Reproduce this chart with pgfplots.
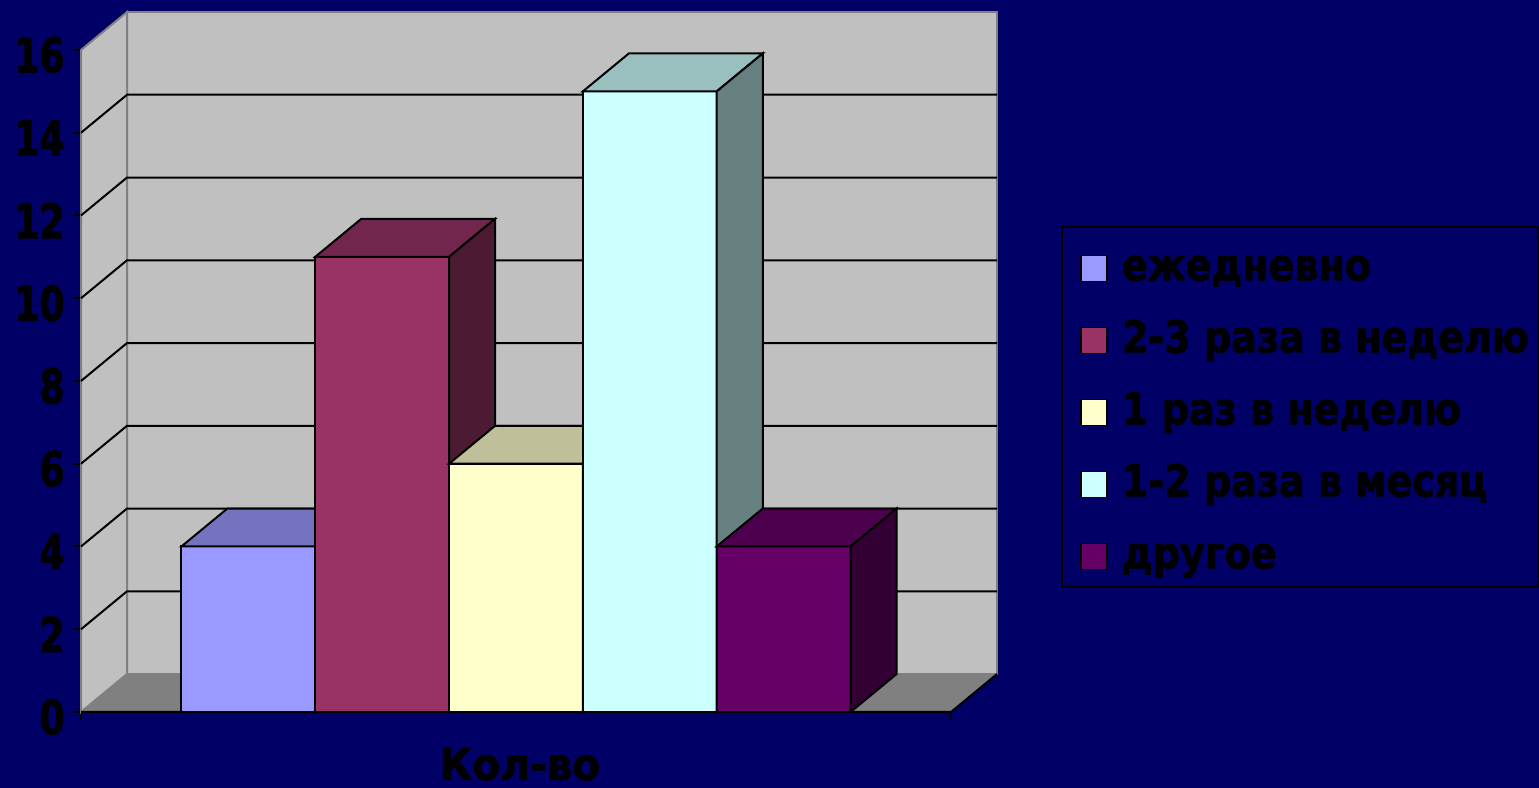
\documentclass[border=0pt]{standalone}
\usepackage{pgfplots}
\pgfplotsset{compat=1.18}
\usepackage{fontspec}
\setmainfont{DejaVu Sans}
\newfontfamily\tickfont{DejaVu Sans}[UprightFont={* Bold}, FakeStretch=0.75, FakeBold=1.5]
\newfontfamily\legfont{DejaVu Sans}[UprightFont={* Bold}, FakeStretch=0.865, FakeBold=1.5]
\newfontfamily\labfont{DejaVu Sans}[UprightFont={* Bold}, FakeStretch=0.92, FakeBold=1.5]
\definecolor{navy}{RGB}{0,0,102}
\definecolor{wall}{RGB}{192,192,192}
\definecolor{edgegray}{RGB}{128,128,128}
\definecolor{floorgray}{RGB}{128,128,128}
\definecolor{fA}{HTML}{9999FF}\definecolor{tA}{HTML}{7373BF}\definecolor{sA}{HTML}{4D4D80}
\definecolor{fB}{HTML}{993366}\definecolor{tB}{HTML}{73264D}\definecolor{sB}{HTML}{4D1A33}
\definecolor{fC}{HTML}{FFFFCC}\definecolor{tC}{HTML}{BFBF99}\definecolor{sC}{HTML}{808066}
\definecolor{fD}{HTML}{CCFFFF}\definecolor{tD}{HTML}{99BFBF}\definecolor{sD}{HTML}{668080}
\definecolor{fE}{HTML}{660066}\definecolor{tE}{HTML}{4D004D}\definecolor{sE}{HTML}{330033}
\pgfplotsset{
  legimg/.style={legend image code/.code={\draw[##1, line width=0.8pt] (0pt,-6.5pt) rectangle (13pt,6.5pt);}},
  front/.style={ybar, bar width=1, bar shift=0pt, draw=black, line width=1pt, legimg},
  face/.style={draw=black, line width=1pt, forget plot},
}
\begin{document}
\begin{tikzpicture}
\path[use as bounding box, fill=navy] (0,0) rectangle (769.5pt,394pt);
\begin{axis}[
  at={(40.5pt,38pt)}, anchor=south west,
  scale only axis, width=458pt, height=350pt,
  xmin=-0.75, xmax=6.094, ymin=0, ymax=16.918,
  axis lines*=left, axis line style={draw=none},
  tick align=outside, major tick length=4pt,
  tick style={black, line width=1pt},
  xtick={-0.75,5.75}, xticklabels={{},{}},
  ytick={0,2,...,16},
  /pgf/number format/assume math mode=true,
  yticklabel style={font=\tickfont\fontsize{24}{24}\selectfont, inner sep=0pt, xshift=-4pt, yshift=-2.5pt, text=black},
  xlabel={Кол-во},
  xlabel style={at={(axis description cs:0.479,-0.097)}, anchor=base, font=\labfont\fontsize{22}{22}\selectfont, text=black},
  legend cell align=left,
  legend style={at={(axis description cs:1.0906,0.6686)}, anchor=north west, draw=none, fill=none,
    inner sep=0pt, row sep=12pt, column sep=7pt, font=\legfont\fontsize{22}{22}\selectfont, text=black,
    nodes={inner sep=0pt, text height=18pt, text depth=6pt}},
  clip=false,
]
% walls and floor
\addplot[fill=wall, draw=edgegray, line width=1pt, forget plot] coordinates {(-0.406,0.918)(6.094,0.918)(6.094,16.918)(-0.406,16.918)} -- cycle;
\addplot[fill=wall, draw=edgegray, line width=1pt, forget plot] coordinates {(-0.75,0)(-0.406,0.918)(-0.406,16.918)(-0.75,16)} -- cycle;
\addplot[fill=floorgray, draw=none, forget plot] coordinates {(-0.75,0)(5.75,0)(6.094,0.918)(-0.406,0.918)} -- cycle;
% gridlines
\addplot[black, line width=1pt, forget plot] coordinates {(-0.75,2)(-0.406,2.918)(6.094,2.918)};
\addplot[black, line width=1pt, forget plot] coordinates {(-0.75,4)(-0.406,4.918)(6.094,4.918)};
\addplot[black, line width=1pt, forget plot] coordinates {(-0.75,6)(-0.406,6.918)(6.094,6.918)};
\addplot[black, line width=1pt, forget plot] coordinates {(-0.75,8)(-0.406,8.918)(6.094,8.918)};
\addplot[black, line width=1pt, forget plot] coordinates {(-0.75,10)(-0.406,10.918)(6.094,10.918)};
\addplot[black, line width=1pt, forget plot] coordinates {(-0.75,12)(-0.406,12.918)(6.094,12.918)};
\addplot[black, line width=1pt, forget plot] coordinates {(-0.75,14)(-0.406,14.918)(6.094,14.918)};
\addplot[black, line width=1pt, forget plot] coordinates {(-0.75,0)(5.75,0)(6.094,0.918)};
% bars
\addplot[front, fill=fA] coordinates {(0.5,4)};
\addlegendentry{ежедневно}
\addplot[face, fill=tA] coordinates {(0,4)(1,4)(1.344,4.918)(0.344,4.918)} -- cycle;
\addplot[face, fill=sA] coordinates {(1,0)(1.344,0.918)(1.344,4.918)(1,4)} -- cycle;
\addplot[front, fill=fB] coordinates {(1.5,11)};
\addlegendentry{2-3 раза в неделю}
\addplot[face, fill=tB] coordinates {(1,11)(2,11)(2.344,11.918)(1.344,11.918)} -- cycle;
\addplot[face, fill=sB] coordinates {(2,0)(2.344,0.918)(2.344,11.918)(2,11)} -- cycle;
\addplot[front, fill=fC] coordinates {(2.5,6)};
\addlegendentry{1 раз в неделю}
\addplot[face, fill=tC] coordinates {(2,6)(3,6)(3.344,6.918)(2.344,6.918)} -- cycle;
\addplot[face, fill=sC] coordinates {(3,0)(3.344,0.918)(3.344,6.918)(3,6)} -- cycle;
\addplot[front, fill=fD] coordinates {(3.5,15)};
\addlegendentry{1-2 раза в месяц}
\addplot[face, fill=tD] coordinates {(3,15)(4,15)(4.344,15.918)(3.344,15.918)} -- cycle;
\addplot[face, fill=sD] coordinates {(4,0)(4.344,0.918)(4.344,15.918)(4,15)} -- cycle;
\addplot[front, fill=fE] coordinates {(4.5,4)};
\addlegendentry{другое}
\addplot[face, fill=tE] coordinates {(4,4)(5,4)(5.344,4.918)(4.344,4.918)} -- cycle;
\addplot[face, fill=sE] coordinates {(5,0)(5.344,0.918)(5.344,4.918)(5,4)} -- cycle;
\end{axis}
\draw[black, line width=0.8pt] (531pt,100.5pt) rectangle (768.9pt,280.5pt);
\end{tikzpicture}
\end{document}
